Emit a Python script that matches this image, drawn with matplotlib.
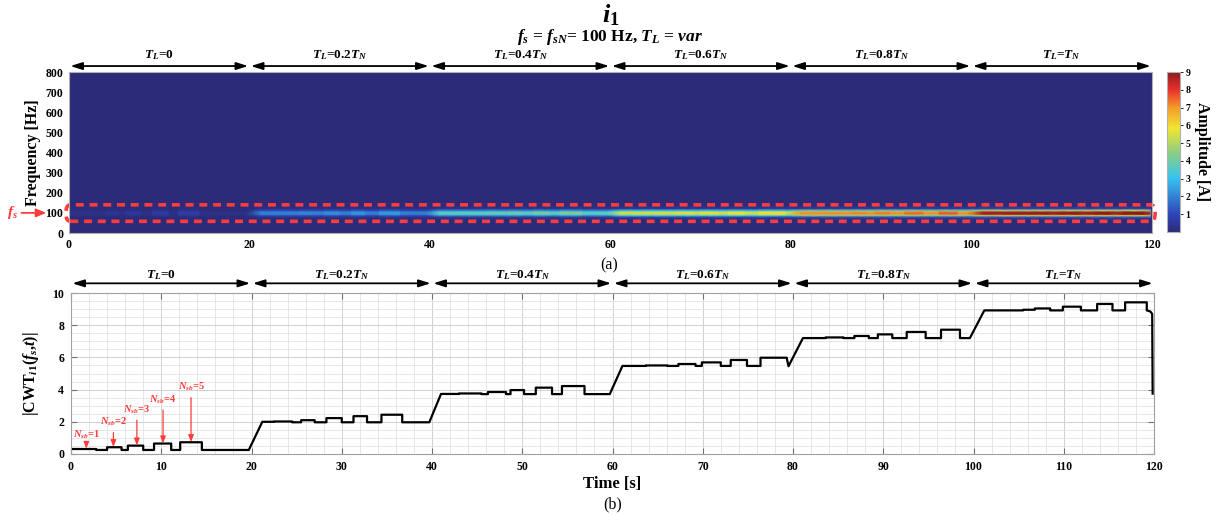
import numpy as np
import matplotlib
matplotlib.use('Agg')
import matplotlib.pyplot as plt
import matplotlib.transforms as mtransforms
from matplotlib.colors import LinearSegmentedColormap
from matplotlib.patches import FancyBboxPatch
from matplotlib.ticker import MultipleLocator

plt.rcParams['font.family'] = ['Liberation Serif', 'DejaVu Serif']
plt.rcParams['font.weight'] = 'bold'
plt.rcParams['axes.labelweight'] = 'bold'
plt.rcParams['mathtext.fontset'] = 'custom'
plt.rcParams['mathtext.rm'] = 'Liberation Serif:bold'
plt.rcParams['mathtext.it'] = 'Liberation Serif:italic:bold'
plt.rcParams['mathtext.bf'] = 'Liberation Serif:bold'

# load steps
seg_edges = [0, 20, 40, 60, 80, 100, 120]
seg_labels = [r'$T_L$=0', r'$T_L$=0.2$T_N$', r'$T_L$=0.4$T_N$',
              r'$T_L$=0.6$T_N$', r'$T_L$=0.8$T_N$', r'$T_L$=$T_N$']

# |CWT(fs,t)| breakpoints, one row per load step
cwt_t = [
    0, 2.8, 2.8, 4.0, 4.0, 5.6, 5.6, 6.3, 6.3, 8.0, 8.0, 9.2, 9.2, 11.1, 11.1, 12.1, 12.1, 14.5, 14.5, 19.7,
    21.2, 22.5, 22.5, 24.5, 24.5, 25.5, 25.5, 27.0, 27.0, 28.3, 28.3, 30.0, 30.0, 31.3, 31.3, 32.8, 32.8, 34.4, 34.4, 36.7, 36.7, 39.7,
    41.0, 43.0, 43.0, 45.5, 45.5, 46.2, 46.2, 48.2, 48.2, 48.7, 48.7, 50.2, 50.2, 51.5, 51.5, 53.3, 53.3, 54.4, 54.4, 56.9, 56.9, 59.7,
    61.1, 63.7, 63.7, 66.1, 66.1, 67.3, 67.3, 69.2, 69.2, 69.9, 69.9, 72.0, 72.0, 73.1, 73.1, 74.9, 74.9, 76.4, 76.4, 79.3, 79.5,
    81.1, 83.6, 83.6, 85.6, 85.6, 86.8, 86.8, 88.4, 88.4, 89.4, 89.4, 91.0, 91.0, 92.6, 92.6, 94.7, 94.7, 96.4, 96.4, 98.5, 98.5, 99.6,
    101.2, 105.5, 105.5, 106.8, 106.8, 108.5, 108.5, 109.9, 109.9, 111.9, 111.9, 113.7, 113.7, 115.4, 115.4, 116.8, 116.8, 119.2, 119.2, 119.6, 119.8, 119.85,
]
cwt_amp = [
    0.31, 0.31, 0.25, 0.25, 0.42, 0.42, 0.25, 0.25, 0.52, 0.52, 0.25, 0.25, 0.65, 0.65, 0.25, 0.25, 0.73, 0.73, 0.25, 0.25,
    2.0, 2.0, 2.02, 2.02, 1.97, 1.97, 2.1, 2.1, 1.97, 1.97, 2.23, 2.23, 1.97, 1.97, 2.35, 2.35, 1.97, 1.97, 2.44, 2.44, 1.97, 1.97,
    3.73, 3.73, 3.76, 3.76, 3.72, 3.72, 3.85, 3.85, 3.72, 3.72, 3.97, 3.97, 3.72, 3.72, 4.12, 4.12, 3.72, 3.72, 4.22, 4.22, 3.72, 3.72,
    5.47, 5.47, 5.5, 5.5, 5.47, 5.47, 5.59, 5.59, 5.47, 5.47, 5.69, 5.69, 5.47, 5.47, 5.84, 5.84, 5.47, 5.47, 5.98, 5.98, 5.45,
    7.2, 7.2, 7.24, 7.24, 7.2, 7.2, 7.33, 7.33, 7.2, 7.2, 7.43, 7.43, 7.2, 7.2, 7.58, 7.58, 7.2, 7.2, 7.72, 7.72, 7.2, 7.2,
    8.92, 8.92, 8.96, 8.96, 9.04, 9.04, 8.92, 8.92, 9.15, 9.15, 8.92, 8.92, 9.32, 9.32, 8.92, 8.92, 9.42, 9.42, 8.92, 8.85, 8.7, 3.75,
]

# spread of the fs component over frequency (relative to its peak)
freq_axis = [0, 65, 78, 88, 94, 100, 106, 112, 122, 135, 800]
band_shape = [0, 0, 0.1, 0.55, 0.95, 1.0, 0.95, 0.55, 0.1, 0, 0]

# sideband markers
nsb_labels = [r'$N_{sb}$=1', r'$N_{sb}$=2', r'$N_{sb}$=3', r'$N_{sb}$=4', r'$N_{sb}$=5']
nsb_x = [1.7, 4.7, 7.3, 10.2, 13.3]
nsb_text_y = [1.19, 1.98, 2.75, 3.38, 4.15]
nsb_tip_y = [0.33, 0.44, 0.54, 0.67, 0.75]

RED = '#ff3b3b'
W, H = 1219, 515

cmap = LinearSegmentedColormap.from_list('jet_soft', [
    (0.0, '#2b2b7a'), (0.11, '#2e45b8'), (0.34, '#38c4ef'), (0.5, '#8fcf7f'),
    (0.65, '#f3e531'), (0.78, '#f39a2a'), (0.89, '#e8312c'), (1.0, '#8e1b1f')])


def px_axes(fig, left, top, right, bottom):
    return fig.add_axes([left / W, 1 - bottom / H, (right - left) / W, (bottom - top) / H])


def load_arrows(ax, y_arrow, y_text):
    for i in range(len(seg_labels)):
        x0, x1 = seg_edges[i], seg_edges[i + 1]
        ax.annotate('', xy=(x1 - 0.15, y_arrow), xytext=(x0 + 0.15, y_arrow),
                    xycoords=('data', 'axes fraction'), textcoords=('data', 'axes fraction'),
                    arrowprops=dict(arrowstyle='<|-|>,head_length=0.7,head_width=0.22',
                                    color='black', lw=1.3, shrinkA=0, shrinkB=0,
                                    mutation_scale=10), annotation_clip=False)
        ax.text((x0 + x1) / 2, y_text, seg_labels[i], transform=ax.get_xaxis_transform(),
                ha='center', va='center', fontsize=9.5)


fig = plt.figure(figsize=(W / 100, H / 100), dpi=100)

# (a) scalogram
ax1 = px_axes(fig, 69, 72, 1152, 233)
C = np.outer(band_shape, cwt_amp)
mesh = ax1.pcolormesh(cwt_t, freq_axis, C, shading='gouraud', cmap=cmap, vmin=0, vmax=9)
ax1.set_facecolor(cmap(0.0))
ax1.set_xlim(0, 120)
ax1.set_ylim(0, 800)
ax1.set_xticks(np.arange(0, 121, 20))
ax1.set_yticks(np.arange(0, 801, 100))
ax1.tick_params(length=0, labelsize=8.5, pad=4)
for s in ax1.spines.values():
    s.set_color('#b0b0b0')
ax1.set_ylabel('Frequency [Hz]', fontsize=11.5, labelpad=3)

box = FancyBboxPatch((-0.35, 58), 120.7, 82, boxstyle='round,pad=0,rounding_size=0.5',
                     mutation_aspect=82, fill=False, edgecolor=RED, lw=2.6,
                     linestyle=(0, (2.2, 1.6)), clip_on=False)
ax1.add_patch(box)

trans = mtransforms.blended_transform_factory(ax1.transAxes, ax1.transData)
ax1.annotate('', xy=(-0.021, 100), xytext=(-0.044, 100), xycoords=trans, textcoords=trans,
             arrowprops=dict(arrowstyle='-|>,head_length=0.6,head_width=0.25', color=RED,
                             lw=1.3, shrinkA=0, shrinkB=0, mutation_scale=10),
             annotation_clip=False)
ax1.text(-0.052, 100, r'$f_s$', transform=trans, color=RED, ha='center', va='center',
         fontsize=11)

load_arrows(ax1, 1.037, 1.105)

cax = px_axes(fig, 1167, 72, 1180, 232)
cb = fig.colorbar(mesh, cax=cax, ticks=np.arange(1, 10))
cb.outline.set_edgecolor('#b0b0b0')
cb.ax.tick_params(labelsize=7, length=2, width=0.6, pad=2)
cb.set_label('Amplitude [A]', rotation=270, fontsize=11.5, labelpad=14)

fig.text(0.5 * (69 + 1152) / W, 1 - 15 / H, r'$i_1$', ha='center', va='center', fontsize=19)
fig.text(0.5 * (69 + 1152) / W, 1 - 37 / H, r'$f_s$ = $f_{sN}$= 100 Hz, $T_L$ = $var$',
         ha='center', va='center', fontsize=12.5)
fig.text(609 / W, 1 - 265 / H, '(a)', ha='center', va='center', fontsize=11.5, fontweight='normal')

# (b) |CWT| at fs
ax2 = px_axes(fig, 71, 293, 1154, 454)
ax2.plot(cwt_t, cwt_amp, color='black', lw=1.6)
ax2.set_xlim(0, 120)
ax2.set_ylim(0, 10)
ax2.xaxis.set_major_locator(MultipleLocator(10))
ax2.xaxis.set_minor_locator(MultipleLocator(2))
ax2.yaxis.set_major_locator(MultipleLocator(2))
ax2.yaxis.set_minor_locator(MultipleLocator(0.5))
ax2.grid(which='major', color='#d0d0d0', lw=0.7)
ax2.grid(which='minor', color='#e3e3e3', lw=0.6)
ax2.set_axisbelow(True)
ax2.tick_params(which='major', direction='in', length=4, color='#707070', top=True, right=True,
                labelsize=8.5, pad=5)
ax2.tick_params(which='minor', length=0)
for s in ax2.spines.values():
    s.set_color('#a0a0a0')
ax2.set_xlabel('Time [s]', fontsize=12, labelpad=2)
ax2.set_ylabel(r'|CWT$_{i1}$($f_s$,$t$)|', fontsize=11.5, labelpad=8)

for lab, x, ty, tip in zip(nsb_labels, nsb_x, nsb_text_y, nsb_tip_y):
    ax2.annotate(lab, xy=(x, tip), xytext=(x, ty), ha='center', va='center', fontsize=7.5,
                 color=RED, arrowprops=dict(arrowstyle='-|>,head_length=0.5,head_width=0.2',
                                            color=RED, lw=0.9, shrinkA=1, shrinkB=0,
                                            mutation_scale=8))

load_arrows(ax2, 1.06, 1.112)

fig.text(613 / W, 1 - 504 / H, '(b)', ha='center', va='center', fontsize=11.5, fontweight='normal')

fig.savefig('out.png', dpi=100)
plt.close()
